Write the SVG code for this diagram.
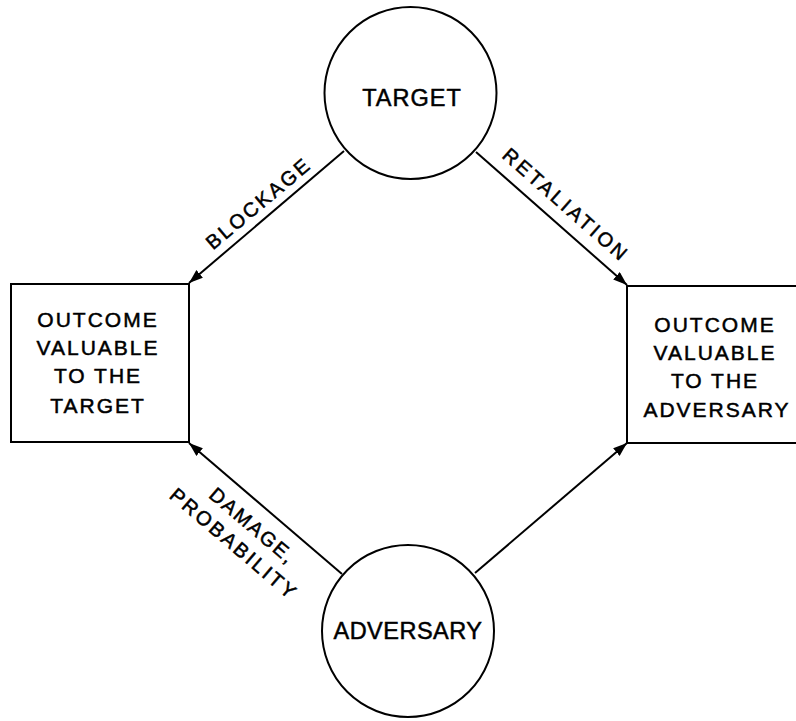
<svg xmlns="http://www.w3.org/2000/svg" width="796" height="721" viewBox="0 0 796 721">
<style>
.shape{fill:#fff;stroke:#000;stroke-width:2}
.edge{fill:none;stroke:#000;stroke-width:2}
text{font-family:"Liberation Sans",Arial,sans-serif;fill:#000;stroke:#000;stroke-width:0.5}
.node{font-size:23.5px;text-anchor:middle}
.box{font-size:21px;text-anchor:middle;letter-spacing:2px}
.lbl{font-size:20px;text-anchor:middle}
</style>
<defs>
<marker id="ah" markerUnits="userSpaceOnUse" markerWidth="16" markerHeight="12" refX="14" refY="5" orient="auto">
<path d="M0,0 L14,5 L0,10 Z" fill="#000"/>
</marker>
</defs>
<rect width="796" height="721" fill="#fff"/>
<g id="connectors">
<line class="edge" x1="344" y1="151" x2="189" y2="283" marker-end="url(#ah)"/>
<line class="edge" x1="476" y1="152" x2="627" y2="285" marker-end="url(#ah)"/>
<line class="edge" x1="342" y1="574" x2="189" y2="443" marker-end="url(#ah)"/>
<line class="edge" x1="475" y1="573" x2="627" y2="443" marker-end="url(#ah)"/>
<text class="lbl" transform="translate(257.5,204) rotate(-40)" y="7" textLength="128" lengthAdjust="spacing">BLOCKAGE</text>
<text class="lbl" transform="translate(565,204) rotate(41.3)" y="7" textLength="158" lengthAdjust="spacing">RETALIATION</text>
<text class="lbl" transform="translate(252,525) rotate(40.4)" y="7" textLength="104" lengthAdjust="spacing">DAMAGE,</text>
<text class="lbl" transform="translate(233,543) rotate(40.4)" y="7" textLength="158" lengthAdjust="spacing">PROBABILITY</text>
</g>
<g id="target">
<circle class="shape" cx="410.5" cy="93" r="86"/>
<text class="node" x="412" y="106" letter-spacing="1">TARGET</text>
</g>
<g id="adversary">
<circle class="shape" cx="408" cy="631" r="86"/>
<text class="node" x="408" y="639" letter-spacing="0.5">ADVERSARY</text>
</g>
<g id="outcome-target">
<rect class="shape" x="11" y="284" width="178" height="158"/>
<text class="box" x="98"><tspan x="98" y="327">OUTCOME</tspan><tspan x="98" y="355">VALUABLE</tspan><tspan x="98" y="383">TO THE</tspan><tspan x="98" y="413">TARGET</tspan></text>
</g>
<g id="outcome-adversary">
<path class="shape" d="M798,286 H627 V443 H798"/>
<text class="box" x="715"><tspan x="715" y="332">OUTCOME</tspan><tspan x="715" y="360">VALUABLE</tspan><tspan x="715" y="388">TO THE</tspan><tspan x="717" y="417">ADVERSARY</tspan></text>
</g>
</svg>
